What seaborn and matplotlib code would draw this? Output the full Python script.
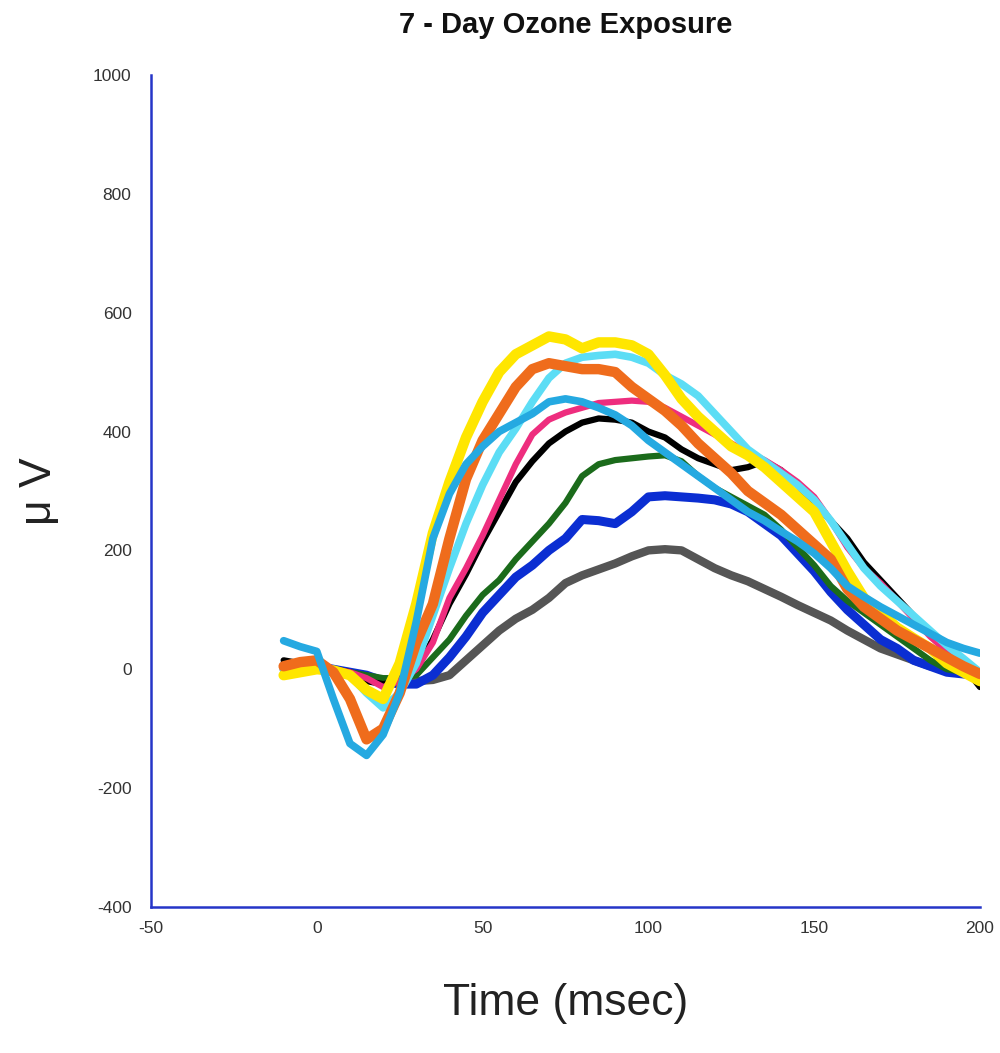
import numpy as np
import pandas as pd
import seaborn as sns
import matplotlib.pyplot as plt

# time axis (msec), sampled every 5 ms
time_ms = [-10, -5, 0, 5, 10, 15, 20, 25, 30, 35, 40, 45, 50, 55, 60, 65, 70, 75,
           80, 85, 90, 95, 100, 105, 110, 115, 120, 125, 130, 135, 140, 145, 150,
           155, 160, 165, 170, 175, 180, 185, 190, 195, 200]

# responses (uV)
gray = [0, 0, 0, -5, -10, -15, -20, -22, -20, -18, -10, 15, 40, 65, 85, 100, 120, 145,
        158, 168, 178, 190, 200, 202, 200, 185, 170, 158, 148, 135, 122, 108, 95,
        82, 65, 50, 35, 25, 15, 5, 0, -5, -10]
blue = [5, 5, 5, 0, -5, -10, -20, -25, -25, -10, 20, 55, 95, 125, 155, 175, 200, 220,
        252, 250, 245, 265, 290, 292, 290, 288, 285, 278, 265, 245, 225, 195, 165,
        130, 100, 75, 50, 35, 15, 5, -5, -8, -10]
green = [5, 5, 5, 0, -5, -10, -15, -15, -10, 20, 50, 90, 125, 150, 185, 215, 245, 280,
         325, 345, 352, 355, 358, 360, 350, 325, 305, 290, 275, 260, 235, 205, 175,
         140, 115, 95, 75, 55, 35, 15, 0, -5, -10]
black = [15, 10, 5, 0, -5, -20, -25, -20, 0, 50, 110, 160, 215, 265, 315, 350, 380, 400,
         415, 422, 420, 415, 400, 390, 370, 355, 345, 335, 340, 350, 335, 310, 280,
         250, 220, 180, 150, 120, 90, 60, 35, 5, -30]
pink = [0, 0, 0, 0, -5, -15, -30, -20, 0, 45, 120, 170, 225, 285, 345, 395, 420, 432,
        440, 448, 450, 452, 450, 440, 425, 410, 395, 380, 365, 352, 335, 315, 290,
        250, 205, 170, 145, 115, 85, 55, 30, 10, -10]
cyan = [0, 0, 0, -2, -10, -40, -65, -40, 10, 90, 170, 245, 310, 365, 405, 450, 490, 515,
        525, 528, 530, 525, 515, 495, 480, 460, 430, 400, 370, 350, 330, 310, 285,
        250, 210, 170, 140, 115, 90, 65, 40, 18, -5]
yellow = [-10, -5, 0, -2, -10, -35, -50, 10, 110, 229, 315, 390, 450, 500, 530, 545, 560, 555,
          540, 550, 550, 545, 530, 495, 455, 425, 400, 375, 360, 340, 315, 290, 265,
          215, 165, 120, 95, 70, 52, 35, 10, -5, -20]
orange = [5, 12, 15, -5, -50, -118, -100, -40, 45, 110, 220, 320, 385, 430, 475, 505, 515, 510,
          505, 505, 500, 475, 455, 435, 410, 380, 355, 330, 300, 280, 260, 235, 210,
          185, 135, 105, 85, 65, 50, 35, 20, 5, -8]
skyblue = [48, 38, 30, -50, -125, -145, -110, -40, 80, 220, 295, 345, 375, 400, 415, 430, 450, 455,
           450, 440, 428, 410, 385, 365, 345, 325, 305, 285, 265, 250, 232, 215, 195,
           170, 140, 122, 105, 90, 75, 60, 45, 35, 27]

series = {
    'gray': gray, 'blue': blue, 'green': green, 'black': black, 'pink': pink,
    'cyan': cyan, 'yellow': yellow, 'orange': orange, 'skyblue': skyblue,
}
colors = {
    'gray': '#555555', 'blue': '#0B2ED2', 'green': '#1B6B1B', 'black': '#000000',
    'pink': '#EE2D7E', 'cyan': '#5CDDF5', 'yellow': '#FFE600', 'orange': '#EF6C1C',
    'skyblue': '#25A9E1',
}
widths = {
    'gray': 6, 'blue': 6.5, 'green': 4.5, 'black': 4.5, 'pink': 4.5,
    'cyan': 5.5, 'yellow': 7.5, 'orange': 7.5, 'skyblue': 5.5,
}

df = pd.DataFrame([(name, t, v) for name, vals in series.items()
                   for t, v in zip(time_ms, vals)],
                  columns=['trace', 'time', 'uV'])

sns.set_style('white')
plt.rcParams['font.family'] = ['Liberation Sans', 'DejaVu Sans']
plt.rcParams['axes.unicode_minus'] = False

fig = plt.figure(figsize=(10, 10.53), dpi=100)
ax = fig.add_axes([0.151, 0.1387, 0.829, 0.7901])

for name in series:
    sub = df[df['trace'] == name]
    sns.lineplot(data=sub, x='time', y='uV', ax=ax, color=colors[name],
                 linewidth=widths[name], legend=False)

ax.set_xlim(-50, 200)
ax.set_ylim(-400, 1000)
ax.set_xticks(np.arange(-50, 201, 50))
ax.set_yticks(np.arange(-400, 1001, 200))

blue_axis = '#2535C8'
for side in ['top', 'right']:
    ax.spines[side].set_visible(False)
for side in ['left', 'bottom']:
    ax.spines[side].set_color(blue_axis)
    ax.spines[side].set_linewidth(1.8)
ax.tick_params(axis='both', direction='in', length=10, width=1.8,
               color=blue_axis, labelsize=12.5, labelcolor='#333333')
ax.tick_params(axis='y', pad=14)
ax.tick_params(axis='x', pad=10)

ax.set_xlabel('Time (msec)', fontsize=32, color='#222222')
ax.xaxis.set_label_coords(0.5, -0.092)
ax.set_ylabel('μ V', fontsize=32, color='#222222')
ax.yaxis.set_label_coords(-0.11, 0.5)
ax.set_title('7 - Day Ozone Exposure', fontsize=21, fontweight='bold',
             color='#111111', pad=30)

plt.savefig('out.png', dpi=100)
